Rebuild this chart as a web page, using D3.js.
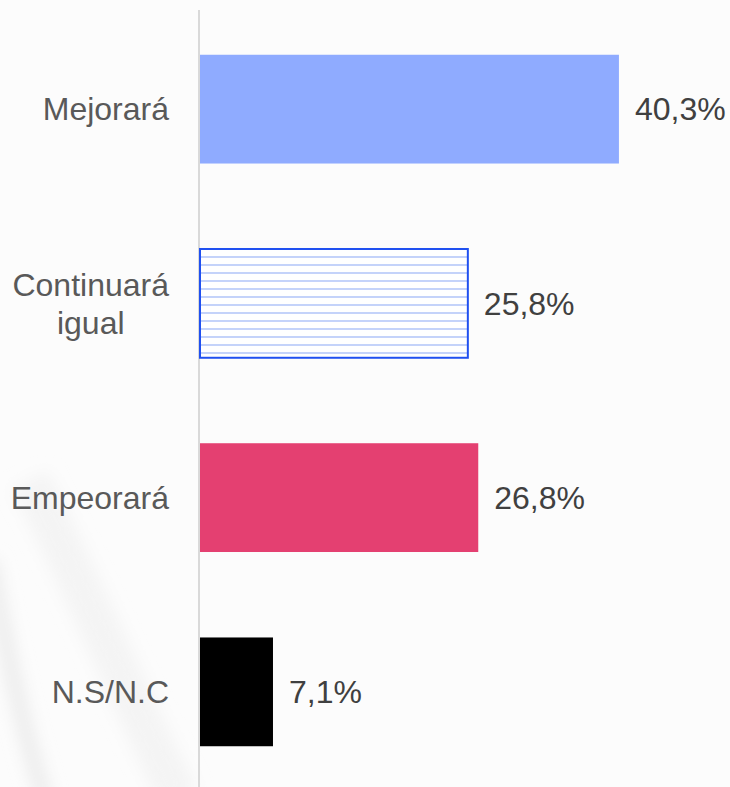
<!DOCTYPE html>
<html>
<head>
<meta charset="utf-8">
<script src="https://cdn.jsdelivr.net/npm/d3@7"></script>
<style>
  html, body { margin: 0; padding: 0; background: #fcfcfc; }
  svg { display: block; }
</style>
</head>
<body>
<svg id="chart"></svg>
<script>
const categories = [['Mejorará'], ['Continuará', 'igual'], ['Empeorará'], ['N.S/N.C']];
const values = [40.3, 25.8, 26.8, 7.1];
const valueLabels = ['40,3%', '25,8%', '26,8%', '7,1%'];
const barFills = ['#8fabff', 'url(#hatch)', '#e44071', '#000000'];

const width = 730, height = 787;
const axisX = 199;
const fontSize = 32;

const svg = d3.select('#chart').attr('width', width).attr('height', height);
const defs = svg.append('defs');

// horizontal line hatch for the "igual" bar
const hatch = defs.append('pattern')
  .attr('id', 'hatch')
  .attr('patternUnits', 'userSpaceOnUse')
  .attr('width', 8).attr('height', 8);
hatch.append('rect').attr('width', 8).attr('height', 8).attr('fill', '#ffffff');
hatch.append('line')
  .attr('x1', 0).attr('x2', 8).attr('y1', 1).attr('y2', 1)
  .attr('stroke', '#b6c8f9').attr('stroke-width', 1.6);

const blur = defs.append('filter').attr('id', 'blur')
  .attr('x', '-50%').attr('y', '-50%').attr('width', '200%').attr('height', '200%');
blur.append('feGaussianBlur').attr('stdDeviation', 8);

// faint background swoosh
svg.append('rect').attr('width', width).attr('height', height).attr('fill', '#fcfcfc');
svg.append('path')
  .attr('d', 'M -10 560 C 5 640, 20 720, 45 800')
  .attr('fill', 'none')
  .attr('stroke', '#ececec')
  .attr('stroke-width', 16)
  .attr('filter', 'url(#blur)');
svg.append('path')
  .attr('d', 'M 30 480 C 90 600, 130 700, 180 800')
  .attr('fill', 'none')
  .attr('stroke', '#f4f4f4')
  .attr('stroke-width', 40)
  .attr('filter', 'url(#blur)');

const x = d3.scaleLinear().domain([0, 50]).range([axisX, axisX + 521]);
const y = d3.scaleBand()
  .domain(d3.range(categories.length))
  .range([13, 788])
  .paddingInner(0.44)
  .paddingOuter(0.215);

// vertical axis line
svg.append('line')
  .attr('x1', axisX).attr('x2', axisX)
  .attr('y1', 10).attr('y2', height)
  .attr('stroke', '#d9d9d9').attr('stroke-width', 2);

svg.selectAll('.bar')
  .data(values)
  .enter()
  .append('rect')
  .attr('class', 'bar')
  .attr('x', x(0) + 1)
  .attr('y', (d, i) => y(i))
  .attr('width', d => x(d) - x(0) - 1)
  .attr('height', y.bandwidth())
  .attr('fill', (d, i) => barFills[i])
  .attr('stroke', (d, i) => i === 1 ? '#2050f0' : 'none')
  .attr('stroke-width', 2);

// value labels
svg.selectAll('.value')
  .data(values)
  .enter()
  .append('text')
  .attr('class', 'value')
  .attr('x', d => x(d) + 16)
  .attr('y', (d, i) => y(i) + y.bandwidth() / 2)
  .attr('dy', '0.35em')
  .attr('font-family', 'Liberation Sans, Arial, sans-serif')
  .attr('font-size', fontSize)
  .attr('fill', '#404040')
  .text((d, i) => valueLabels[i]);

// category labels: block right aligned, lines centred within it
const labelRight = 169;
const lineH = 38;
categories.forEach((lines, i) => {
  const g = svg.append('g');
  const cy = y(i) + y.bandwidth() / 2;
  const texts = lines.map((t, j) => g.append('text')
    .attr('font-family', 'Liberation Sans, Arial, sans-serif')
    .attr('font-size', fontSize)
    .attr('fill', '#595959')
    .attr('text-anchor', 'middle')
    .attr('y', cy + (j - (lines.length - 1) / 2) * lineH)
    .attr('dy', '0.35em')
    .text(t));
  const maxW = d3.max(texts, t => t.node().getComputedTextLength());
  texts.forEach(t => t.attr('x', labelRight - maxW / 2));
});
</script>
</body>
</html>
